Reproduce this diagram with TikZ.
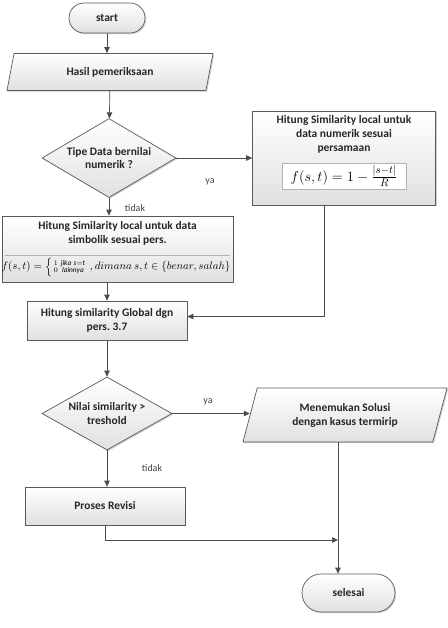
\documentclass[tikz,border=0pt]{standalone}
\usepackage{amsmath,amssymb}
\usepackage{fontspec}
\setmainfont{Carlito}
\frenchspacing
\usetikzlibrary{shapes.geometric,shapes.misc,arrows.meta,shadows}

\begin{document}
\begin{tikzpicture}[x=1bp,y=-1bp,
    box/.style={draw=black!65, line width=0.7pt, top color=white, bottom color=black!12,
        drop shadow={shadow xshift=1.2bp, shadow yshift=-1.2bp, opacity=0.3, fill=black!60},
        font=\bfseries\fontsize{11.5}{14}\selectfont, text=black!85, align=center, inner sep=2bp},
    terminal/.style={box, rounded rectangle},
    proses/.style={box, rectangle},
    keputusan/.style={box, diamond, inner sep=0pt},
    masukan/.style={box, trapezium, trapezium stretches body,
        trapezium left angle=63, trapezium right angle=117},
    teks/.style={font=\bfseries\fontsize{11.5}{14}\selectfont, text=black!85, align=center},
    rumus/.style={draw=black!30, fill=white, inner sep=1bp,
        drop shadow={shadow xshift=1bp, shadow yshift=-1bp, opacity=0.2}},
    ket/.style={font=\fontsize{10}{12}\selectfont, text=black!75},
    panah/.style={draw=black!70, line width=0.7pt, -{Triangle[length=6bp,width=5.5bp]}}]

    \useasboundingbox (0,0) rectangle (448,628);

    % Mulai
    \node[terminal, minimum width=80bp, minimum height=30bp] (start) at (107,18) {start};
    % Data masukan
    \node[masukan, minimum width=206bp, minimum height=37bp] (hasil) at (110,72) {Hasil pemeriksaan};
    % Cek tipe data
    \node[keputusan, minimum width=134bp, minimum height=79bp,
        label={[teks]center:Tipe Data bernilai\\numerik ?}] (cek) at (109,158) {};

    % Similarity lokal numerik
    \node[proses, minimum width=183bp, minimum height=94bp] (numerik) at (344,158) {};
    \node[teks, anchor=north] (numteks) at ([yshift=-1bp]numerik.north)
        {Hitung Similarity local untuk\\data numerik sesuai\\persamaan};
    \node[rumus, minimum width=124bp, minimum height=26bp, font=\fontsize{15.5}{17}\selectfont]
        (numrumus) at (344,176) {$f(s,t) = 1-\frac{|s-t|}{R}$};

    % Similarity lokal simbolik
    \node[proses, minimum width=231bp, minimum height=66bp] (simbolik) at (117.5,249) {};
    \node[teks] (simteks) at (117.5,233) {Hitung Similarity local untuk data\\simbolik sesuai pers.};
    \draw[black!30] (5,255) -- (230,255);
    \node[inner sep=0pt, font=\fontsize{10.5}{12}\selectfont] (simrumus) at (116,267)
        {$f(s,t)=\left\{\begin{smallmatrix}1 & \mathit{jika\ s=t}\\ 0 & \mathit{lainnya}\end{smallmatrix}\right., dimana\ s,t\in\{benar,salah\}$};

    % Similarity global
    \node[proses, minimum width=160bp, minimum height=39bp] (global) at (107,320.5)
        {Hitung similarity Global dgn\\pers. 3.7};
    % Cek treshold
    \node[keputusan, minimum width=130bp, minimum height=73bp,
        label={[teks]center:Nilai similarity >\\treshold}] (nilai) at (107,413.5) {};
    % Solusi
    \node[masukan, minimum width=204bp, minimum height=54bp] (solusi) at (345,415)
        {Menemukan Solusi\\dengan kasus termirip};
    % Revisi
    \node[proses, minimum width=160bp, minimum height=38bp] (revisi) at (105,506) {Proses Revisi};
    % Selesai
    \node[terminal, minimum width=97bp, minimum height=38bp] (selesai) at (348.5,593) {selesai};

    % Label cabang
    \node[ket] (ya1) at (210,182) {ya};
    \node[ket] (tidak1) at (135,208) {tidak};
    \node[ket] (ya2) at (208,402) {ya};
    \node[ket] (tidak2) at (152,468) {tidak};

    % Panah
    \draw[panah] (start.south) -- (start.south |- hasil.north);
    \draw[panah] (hasil) -- (cek);
    \draw[panah] (cek.east) -- (cek.east -| numerik.west);
    \draw[panah] (cek.south) -- (cek.south |- simbolik.north);
    \draw[panah] (simbolik.south -| global.north) -- (global.north);
    \draw[panah] ([xshift=-20bp]numerik.south) |- ([yshift=4bp]global.east);
    \draw[panah] (global) -- (nilai);
    \draw[panah] (nilai.east) -- (nilai.east -| solusi.west);
    \draw[panah] (nilai.south) -- (nilai.south |- revisi.north);
    \coordinate (gabung) at ([xshift=-7bp]solusi.south |- 0,540);
    \draw[panah] ([xshift=-7bp]solusi.south) -- (gabung |- selesai.north);
    \draw[panah] (revisi.south) |- (gabung);
\end{tikzpicture}
\end{document}
